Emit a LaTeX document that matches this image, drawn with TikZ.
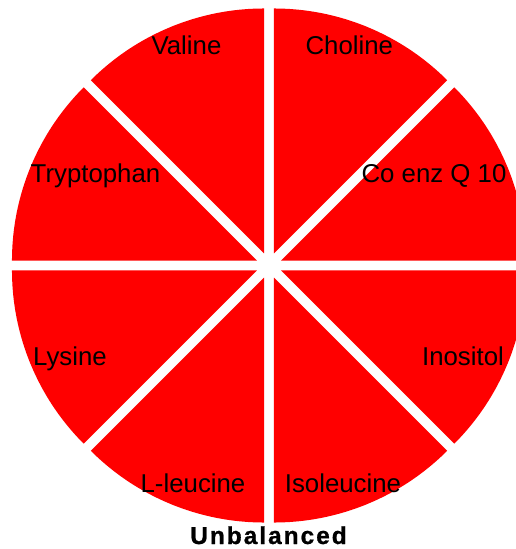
\documentclass[tikz,border=0pt]{standalone}
\usepackage{fontspec}
\setmainfont{Liberation Sans}
\usetikzlibrary{calc}
\newcommand{\pieR}{245pt}
\newcommand{\pieGap}{13pt}
\tikzset{
  slice/.style={fill=red},
  pielbl/.style={font=\fontsize{25.8}{30}\selectfont,inner sep=0pt,
    anchor=base,text=black},
  pietitle/.style={font=\fontsize{24.5}{28}\selectfont\bfseries
    \addfontfeatures{LetterSpace=8,FakeBold=0.8},inner sep=0pt,anchor=base},
}
\begin{document}
\begin{tikzpicture}
  \useasboundingbox (-269pt,-283.5pt) rectangle (247pt,265.5pt);
  \clip (-269pt,-283.5pt) rectangle (247pt,265.5pt);
  \foreach \a in {0,45,...,315} {
    \pgfmathsetmacro\b{\a+22.5}
    \fill[slice] (\b:\pieGap) -- ++(\a:\pieR)
      arc[start angle=\a,end angle=\a+45,radius=\pieR] -- cycle;
  }
  \node[pielbl] (valine) at (-82.5pt,210.5pt) {Valine};
  \node[pielbl] (choline) at (80.3pt,210.5pt) {Choline};
  \node[pielbl] (trypto) at (-173.5pt,82.5pt) {Tryptophan};
  \node[pielbl] (coq) at (165pt,82.5pt) {Co enz Q 10};
  \node[pielbl] (lysine) at (-199pt,-99.5pt) {Lysine};
  \node[pielbl] (inositol) at (194pt,-99.5pt) {Inositol};
  \node[pielbl] (leucine) at (-76pt,-226.5pt) {L-leucine};
  \node[pielbl] (isoleu) at (74pt,-226.5pt) {Isoleucine};
  \node[pietitle] (title) at (-0.5pt,-278.5pt) {Unbalanced};
\end{tikzpicture}
\end{document}
